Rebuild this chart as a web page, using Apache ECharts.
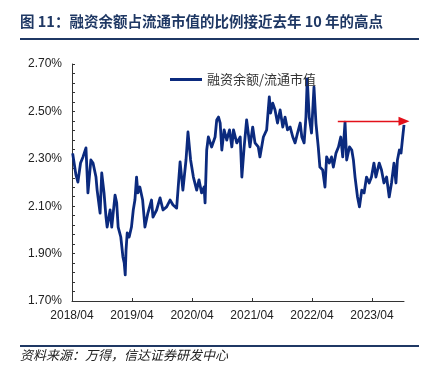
<!DOCTYPE html>
<html><head><meta charset="utf-8">
<script src="https://cdn.jsdelivr.net/npm/echarts@6/dist/echarts.min.js"></script>
<style>html,body{margin:0;padding:0;background:#fff}#c{width:431px;height:370px}</style>
</head><body><div id="c"></div>
<script>
const titleText = '图 11：融资余额占流通市值的比例接近去年 10 年的高点';
const sourceText = '资料来源：万得，信达证券研发中心';
const seriesName = '融资余额/流通市值';

const dates = [
'2018-04-05','2018-04-25','2018-05-07','2018-05-23','2018-06-07','2018-06-25','2018-07-07','2018-07-25','2018-08-07','2018-08-25',
'2018-09-01','2018-09-19','2018-09-29','2018-10-13','2018-10-25','2018-11-01','2018-11-19','2018-11-29','2018-12-19','2018-12-29',
'2019-01-07','2019-01-23','2019-02-05','2019-02-13','2019-02-19','2019-02-24','2019-03-03','2019-03-15','2019-03-29','2019-04-09',
'2019-04-19','2019-04-29','2019-05-07','2019-05-19','2019-06-05','2019-06-19','2019-07-07','2019-07-29','2019-08-07','2019-08-29',
'2019-09-19','2019-10-07','2019-10-29','2019-11-19','2019-12-07','2019-12-29','2020-01-19','2020-02-05','2020-02-24','2020-03-07',
'2020-03-23','2020-04-09','2020-04-29','2020-05-13','2020-05-29','2020-06-13','2020-06-19','2020-06-29','2020-07-09','2020-07-29',
'2020-08-19','2020-08-29','2020-09-09','2020-09-19','2020-09-29','2020-10-13','2020-10-29','2020-11-15','2020-11-29','2020-12-09',
'2020-12-29','2021-01-19','2021-01-29','2021-02-12','2021-02-27','2021-03-09','2021-03-19','2021-04-05','2021-04-19','2021-05-09',
'2021-05-19','2021-06-09','2021-06-29','2021-07-15','2021-07-23','2021-08-05','2021-08-19','2021-09-03','2021-09-19','2021-10-05',
'2021-10-19','2021-11-03','2021-11-19','2021-12-05','2021-12-19','2022-01-03','2022-01-19','2022-01-29','2022-02-12','2022-02-23',
'2022-03-03','2022-03-15','2022-03-29','2022-04-13','2022-04-25','2022-05-09','2022-05-19','2022-06-05','2022-06-19','2022-06-29',
'2022-07-15','2022-07-29','2022-08-09','2022-08-25','2022-09-09','2022-09-23','2022-10-05','2022-10-19','2022-10-29','2022-11-15',
'2022-11-29','2022-12-09','2022-12-19','2023-01-03','2023-01-15','2023-01-29','2023-02-12','2023-02-27','2023-03-15','2023-03-29',
'2023-04-13','2023-04-25','2023-05-15','2023-05-29','2023-06-13','2023-06-29','2023-07-15','2023-07-29','2023-08-13','2023-08-25',
'2023-09-03','2023-09-15','2023-09-25','2023-10-05','2023-10-13'
];
const ratio = [
2.323,2.232,2.202,2.282,2.308,2.346,2.156,2.295,2.282,2.223,
2.168,2.071,2.240,2.156,2.054,2.012,2.084,2.012,2.147,2.114,
2.012,1.970,1.886,1.860,1.810,1.915,1.987,1.970,2.012,2.084,
2.126,2.223,2.156,2.181,2.126,2.012,2.071,2.126,2.054,2.084,
2.135,2.084,2.097,2.126,2.105,2.092,2.287,2.168,2.295,2.413,
2.295,2.223,2.168,2.211,2.156,2.181,2.114,2.337,2.392,2.350,
2.392,2.464,2.476,2.451,2.337,2.422,2.379,2.422,2.350,2.422,
2.367,2.392,2.223,2.350,2.464,2.409,2.350,2.434,2.367,2.350,
2.308,2.392,2.422,2.561,2.493,2.535,2.506,2.451,2.506,2.434,
2.476,2.422,2.434,2.392,2.367,2.409,2.451,2.392,2.367,2.476,
2.637,2.476,2.409,2.603,2.451,2.350,2.265,2.253,2.181,2.308,
2.282,2.308,2.265,2.324,2.350,2.392,2.308,2.455,2.295,2.350,
2.337,2.295,2.223,2.139,2.097,2.168,2.156,2.223,2.198,2.223,
2.282,2.223,2.282,2.253,2.198,2.223,2.139,2.198,2.282,2.198,
2.295,2.337,2.324,2.392,2.443
];
const xTickDates = ['2018-04-01','2019-04-01','2020-04-01','2021-04-01','2022-04-01','2023-04-01'];
const xTickLabels = ['2018/04','2019/04','2020/04','2021/04','2022/04','2023/04'];
const yLabelValues = [1.70, 1.90, 2.10, 2.30, 2.50, 2.70];
const yTickLabels = ['1.70%','1.90%','2.10%','2.30%','2.50%','2.70%'];
const yMinorStep = 0.04;
const xMin = '2018-04-01', xMax = '2023-10-13';
const arrowStart = '2022-09-05', arrowEnd = '2023-10-13', arrowLevel = 2.458;

function ts(s){ const p = s.split('-').map(Number); return Date.UTC(p[0], p[1]-1, p[2]); }
const yTickValues = [];
for (let i = 0; i <= 25; i++) yTickValues.push(+(1.70 + i * yMinorStep).toFixed(2));
const xTickTs = xTickDates.map(ts);

const chart = echarts.init(document.getElementById('c'), null, {renderer: 'canvas'});
const navy = '#1f3864';
chart.setOption({
  animation: false,
  backgroundColor: '#fff',
  textStyle: {fontFamily: '"Liberation Sans", "Noto Sans CJK SC", sans-serif'},
  grid: {left: 72, right: 27, top: 64, bottom: 69, containLabel: false},
  legend: {
    data: [seriesName], left: 165, top: 68, icon: 'rect', itemWidth: 32, itemHeight: 3,
    textStyle: {fontSize: 13, color: '#333', fontFamily: '"Noto Sans CJK SC", serif'}
  },
  xAxis: {
    type: 'value', min: ts(xMin), max: ts(xMax),
    axisLine: {lineStyle: {color: '#333', width: 1}},
    axisTick: {show: true, inside: true, length: 3, customValues: xTickTs, lineStyle: {color: '#333'}},
    axisLabel: {
      customValues: xTickTs, margin: 9, fontSize: 12, color: '#222',
      formatter: function (v) { const i = xTickTs.indexOf(v); return i >= 0 ? xTickLabels[i] : ''; }
    },
    splitLine: {show: false}
  },
  yAxis: {
    type: 'value', min: 1.70, max: 2.70,
    axisLine: {show: true, lineStyle: {color: '#333', width: 1}},
    axisTick: {show: true, inside: true, length: 3, customValues: yTickValues, lineStyle: {color: '#333'}},
    axisLabel: {
      customValues: yLabelValues, margin: 10, fontSize: 12, color: '#222',
      formatter: function (v) {
        for (let i = 0; i < yLabelValues.length; i++) if (Math.abs(yLabelValues[i] - v) < 1e-6) return yTickLabels[i];
        return '';
      }
    },
    splitLine: {show: false}
  },
  series: [{
    name: seriesName, type: 'line', symbol: 'none', showSymbol: false,
    data: dates.map((d, i) => [ts(d), ratio[i]]),
    lineStyle: {color: '#0b2a7e', width: 2.8, join: 'round'},
    itemStyle: {color: '#0b2a7e'},
    markLine: {
      silent: true, symbol: ['none', 'triangle'], symbolSize: [9, 11],
      label: {show: false},
      lineStyle: {color: '#e3101a', width: 1.3, type: 'solid'},
      data: [[{coord: [ts(arrowStart), arrowLevel]}, {coord: [ts(arrowEnd), arrowLevel]}]]
    }
  }],
  graphic: [
    {type: 'text', left: 20, top: 14, style: {text: titleText, fill: navy, font: 'bold 14.5px "Noto Sans CJK SC", sans-serif'}},
    {type: 'rect', left: 20, top: 38, shape: {width: 399, height: 2}, style: {fill: navy}},
    {type: 'rect', left: 20, top: 345, shape: {width: 399, height: 2}, style: {fill: navy}},
    {type: 'text', left: 20, top: 349, style: {text: sourceText, fill: '#222', font: 'italic 13px "Noto Sans CJK SC", serif'}}
  ]
});
</script>
</body></html>
